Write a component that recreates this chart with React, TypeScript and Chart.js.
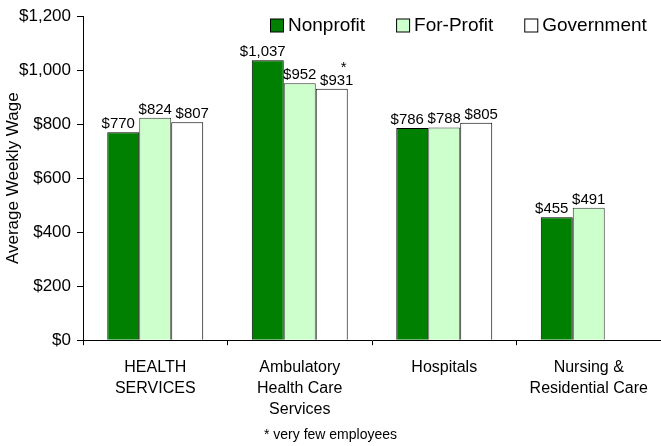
import React, { useEffect, useRef } from "react";
import { Chart, registerables } from "chart.js";

Chart.register(...registerables);

const categories: string[][] = [
  ["HEALTH", "SERVICES"],
  ["Ambulatory", "Health Care", "Services"],
  ["Hospitals"],
  ["Nursing &", "Residential Care"],
];
const seriesNames = ["Nonprofit", "For-Profit", "Government"];
const nonprofit = [770, 1037, 786, 455];
const forProfit = [824, 952, 788, 491];
const government: (number | null)[] = [807, 931, 805, null];
const governmentNotes = ["", "*", "", ""];
const yMin = 0;
const yMax = 1200;
const yStep = 200;
const yTitle = "Average Weekly Wage";
const footnote = "* very few employees";

const FONT = "'Liberation Sans', Arial, sans-serif";

const fmt = (v: number) => "$" + v.toLocaleString("en-US");

const valueLabels = {
  id: "valueLabels",
  afterDatasetsDraw(chart: any) {
    const ctx = chart.ctx;
    ctx.save();
    ctx.font = `15px ${FONT}`;
    ctx.fillStyle = "#000";
    ctx.textAlign = "center";
    ctx.textBaseline = "alphabetic";
    chart.data.datasets.forEach((ds: any, di: number) => {
      const meta = chart.getDatasetMeta(di);
      const dx = ds.labelShift || 0;
      meta.data.forEach((bar: any, i: number) => {
        const v = ds.data[i];
        if (v === null || v === undefined) return;
        const y = bar.y - 4;
        ctx.fillText(fmt(v), bar.x + dx, y);
        const notes = ds.notes as string[] | undefined;
        if (notes && notes[i]) {
          ctx.fillText(notes[i], bar.x + dx + 7, y - 13);
        }
      });
    });
    ctx.restore();
  },
};

const topLegend = {
  id: "topLegend",
  afterDraw(chart: any) {
    const ctx = chart.ctx;
    const opts = chart.options.plugins.topLegend || {};
    const startX = opts.x ?? 270;
    const cy = opts.y ?? 25;
    const box = 13;
    const gap = 5;
    const spacing = opts.spacing ?? 31;
    ctx.save();
    ctx.font = `19px ${FONT}`;
    ctx.textBaseline = "middle";
    ctx.textAlign = "left";
    let x = startX;
    chart.data.datasets.forEach((ds: any) => {
      ctx.fillStyle = ds.backgroundColor;
      ctx.fillRect(x + 0.5, cy - box / 2 + 0.5, box, box);
      ctx.strokeStyle = "#000";
      ctx.lineWidth = 1;
      ctx.strokeRect(x + 0.5, cy - box / 2 + 0.5, box, box);
      ctx.fillStyle = "#000";
      const tx = x + box + gap;
      ctx.fillText(ds.label, tx, cy + 1);
      x = tx + ctx.measureText(ds.label).width + spacing;
    });
    ctx.restore();
  },
};

export default function App() {
  const ref = useRef<HTMLCanvasElement | null>(null);
  useEffect(() => {
    document.body.style.margin = "0";
    const canvas = ref.current!;
    const chart = new Chart(canvas, {
      type: "bar",
      data: {
        labels: categories,
        datasets: [
          {
            label: seriesNames[0],
            data: nonprofit,
            backgroundColor: "#008000",
            borderColor: "#000000",
            borderWidth: 1,
            labelShift: -5,
          } as any,
          {
            label: seriesNames[1],
            data: forProfit,
            backgroundColor: "#CCFFCC",
            borderColor: "#333333",
            borderWidth: 1,
            labelShift: 0,
          } as any,
          {
            label: seriesNames[2],
            data: government,
            backgroundColor: "#FFFFFF",
            borderColor: "#000000",
            borderWidth: 1,
            labelShift: 5,
            notes: governmentNotes,
          } as any,
        ],
      },
      options: {
        animation: false,
        responsive: true,
        maintainAspectRatio: false,
        layout: { padding: { top: 12, right: 0, left: 0, bottom: 0 } },
        datasets: {
          bar: { categoryPercentage: 0.664, barPercentage: 1.0 },
        },
        scales: {
          x: {
            grid: {
              display: true,
              drawOnChartArea: false,
              drawTicks: true,
              tickLength: 5,
              color: "#000",
              offset: true,
            },
            border: { display: true, color: "#000", width: 1 },
            ticks: {
              color: "#000",
              font: { family: FONT, size: 16, lineHeight: 1.3 },
              padding: 12,
              maxRotation: 0,
              autoSkip: false,
            },
            afterFit(scale: any) {
              scale.height = 87;
            },
          },
          y: {
            min: yMin,
            max: yMax,
            grid: {
              display: true,
              drawOnChartArea: false,
              drawTicks: true,
              tickLength: 6,
              color: "#000",
            },
            border: { display: true, color: "#000", width: 1 },
            ticks: {
              stepSize: yStep,
              color: "#000",
              font: { family: FONT, size: 17 },
              padding: 6,
              callback: (v: any) => fmt(Number(v)),
            },
            title: {
              display: true,
              text: yTitle,
              color: "#000",
              font: { family: FONT, size: 17 },
              padding: { top: 3, bottom: 2 },
            },
            afterFit(scale: any) {
              scale.width = 83;
            },
          },
        },
        plugins: {
          legend: { display: false },
          topLegend: { x: 270, y: 25, spacing: 31 },
          title: {
            display: true,
            position: "bottom",
            text: footnote,
            color: "#000",
            font: { family: FONT, size: 14, weight: "normal" },
            padding: { top: 0, bottom: 2 },
          },
          tooltip: { enabled: false },
        } as any,
      },
      plugins: [valueLabels, topLegend],
    });
    return () => chart.destroy();
  }, []);
  return (
    <div style={{ position: "relative", width: 661, height: 446 }}>
      <canvas ref={ref} />
    </div>
  );
}
